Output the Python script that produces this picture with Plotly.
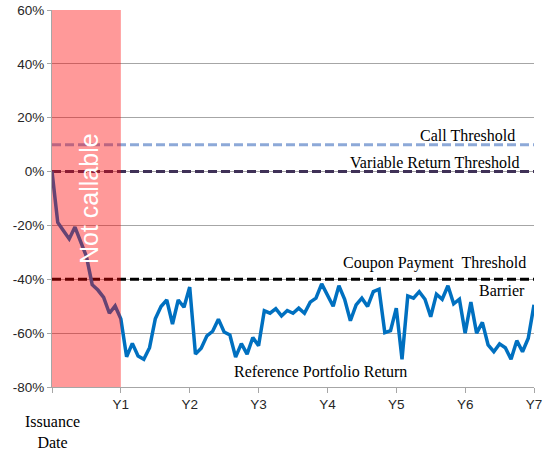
import plotly.graph_objects as go

# ---- data ----
month_index = list(range(85))
portfolio_return = [
    0, -18.9, -22, -25, -20.6, -26.5, -31.5, -42, -44, -46.7, -52.6, -49.9,
    -54.7, -68.8, -63.8, -68.5, -69.7, -65.4, -54.7, -50.1, -47.7, -56.6, -47.7, -50.4,
    -42.9, -67.8, -65.6, -61, -59.3, -54.8, -59.6, -60.7, -68.9, -63.9, -67.8, -61.6,
    -64.7, -51.7, -52.6, -50.9, -53.6, -51.6, -52.6, -50.7, -52.6, -48.5, -47, -41.7,
    -46, -50, -42.4, -47.4, -55.4, -49.5, -47, -50.1, -44.6, -43.7, -59.8, -59.1,
    -50.7, -69.7, -46.2, -47, -44.6, -47.4, -53.9, -45.5, -47.4, -42.4, -49.1, -47.4,
    -60, -48.5, -60, -56, -64.4, -66.9, -64, -65.4, -69.7, -62.8, -66.9, -61.9,
    -49.5,
]
call_threshold = 10
variable_return_threshold = 0
coupon_threshold = -40
not_callable_end_year = 1

year_ticks = [0, 1, 2, 3, 4, 5, 6, 7]
year_labels = ["", "Y1", "Y2", "Y3", "Y4", "Y5", "Y6", "Y7"]
y_ticks = [60, 40, 20, 0, -20, -40, -60, -80]
y_labels = ["60%", "40%", "20%", "0%", "-20%", "-40%", "-60%", "-80%"]

years = [m / 12 for m in month_index]
span = [year_ticks[0], year_ticks[-1]]

fig = go.Figure()

serif = "Liberation Serif, Times New Roman, serif"
sans = "Liberation Sans, Arial, sans-serif"

fig.add_trace(go.Scatter(x=span, y=[call_threshold] * 2, mode="lines",
                         line=dict(color="#8DA9D8", width=3, dash="9px,4px"),
                         hoverinfo="skip"))
fig.add_trace(go.Scatter(x=span, y=[variable_return_threshold] * 2, mode="lines",
                         line=dict(color="#3F3157", width=3, dash="9px,4px"),
                         hoverinfo="skip"))
fig.add_trace(go.Scatter(x=span, y=[coupon_threshold] * 2, mode="lines",
                         line=dict(color="#000000", width=3, dash="9px,4px"),
                         hoverinfo="skip"))
fig.add_trace(go.Scatter(x=years, y=portfolio_return, mode="lines",
                         line=dict(color="#0070C0", width=3.5)))

fig.add_shape(type="rect", xref="x", yref="y", x0=0, x1=not_callable_end_year,
              y0=y_ticks[-1], y1=y_ticks[0], fillcolor="rgba(255,0,0,0.4)",
              line=dict(width=0), layer="above")

ann_font = dict(family=serif, size=16, color="#000000")
fig.add_annotation(x=6.754, y=13.4, text="Call Threshold", showarrow=False,
                   xanchor="right", yanchor="middle", font=ann_font)
fig.add_annotation(x=6.808, y=3.35, text="Variable Return Threshold", showarrow=False,
                   xanchor="right", yanchor="middle", font=ann_font)
fig.add_annotation(x=6.91, y=-34.0, text="Coupon Payment  Threshold", showarrow=False,
                   xanchor="right", yanchor="middle", font=ann_font)
fig.add_annotation(x=6.895, y=-44.2, text="Barrier", showarrow=False,
                   xanchor="right", yanchor="middle", font=ann_font)
fig.add_annotation(x=2.612, y=-74.3, text="Reference Portfolio Return", showarrow=False,
                   xanchor="left", yanchor="middle", font=ann_font)
fig.add_annotation(x=0.534, y=-9.9, text="Not callable", showarrow=False, textangle=-90,
                   xanchor="center", yanchor="middle",
                   font=dict(family=sans, size=25, color="#FFFFFF"))
fig.add_annotation(x=0, y=-80, text="Issuance<br>Date", showarrow=False,
                   xanchor="center", yanchor="top", yshift=-24, font=ann_font)

fig.update_layout(
    width=543, height=453,
    margin=dict(l=52, r=9, t=10, b=66, autoexpand=False),
    paper_bgcolor="#FFFFFF", plot_bgcolor="#FFFFFF",
    showlegend=False,
    xaxis=dict(range=span, tickvals=year_ticks, ticktext=year_labels,
               automargin=False,
               showgrid=False, zeroline=False, showline=True, linecolor="#A6A6A6",
               linewidth=1, ticks="outside", ticklen=5, tickcolor="#A6A6A6",
               tickfont=dict(family=sans, size=13.5, color="#262626")),
    yaxis=dict(range=[y_ticks[-1], y_ticks[0]], tickvals=y_ticks, ticktext=y_labels,
               automargin=False,
               showgrid=True, gridcolor="#A6A6A6", gridwidth=1, zeroline=False,
               showline=True, linecolor="#A6A6A6", linewidth=1,
               ticks="outside", ticklen=4, tickcolor="#A6A6A6",
               tickfont=dict(family=sans, size=13.5, color="#262626")),
)

fig.write_html("out.html", config={"displayModeBar": False},
               post_script="document.body.style.margin='0';document.body.style.overflow='hidden';")
